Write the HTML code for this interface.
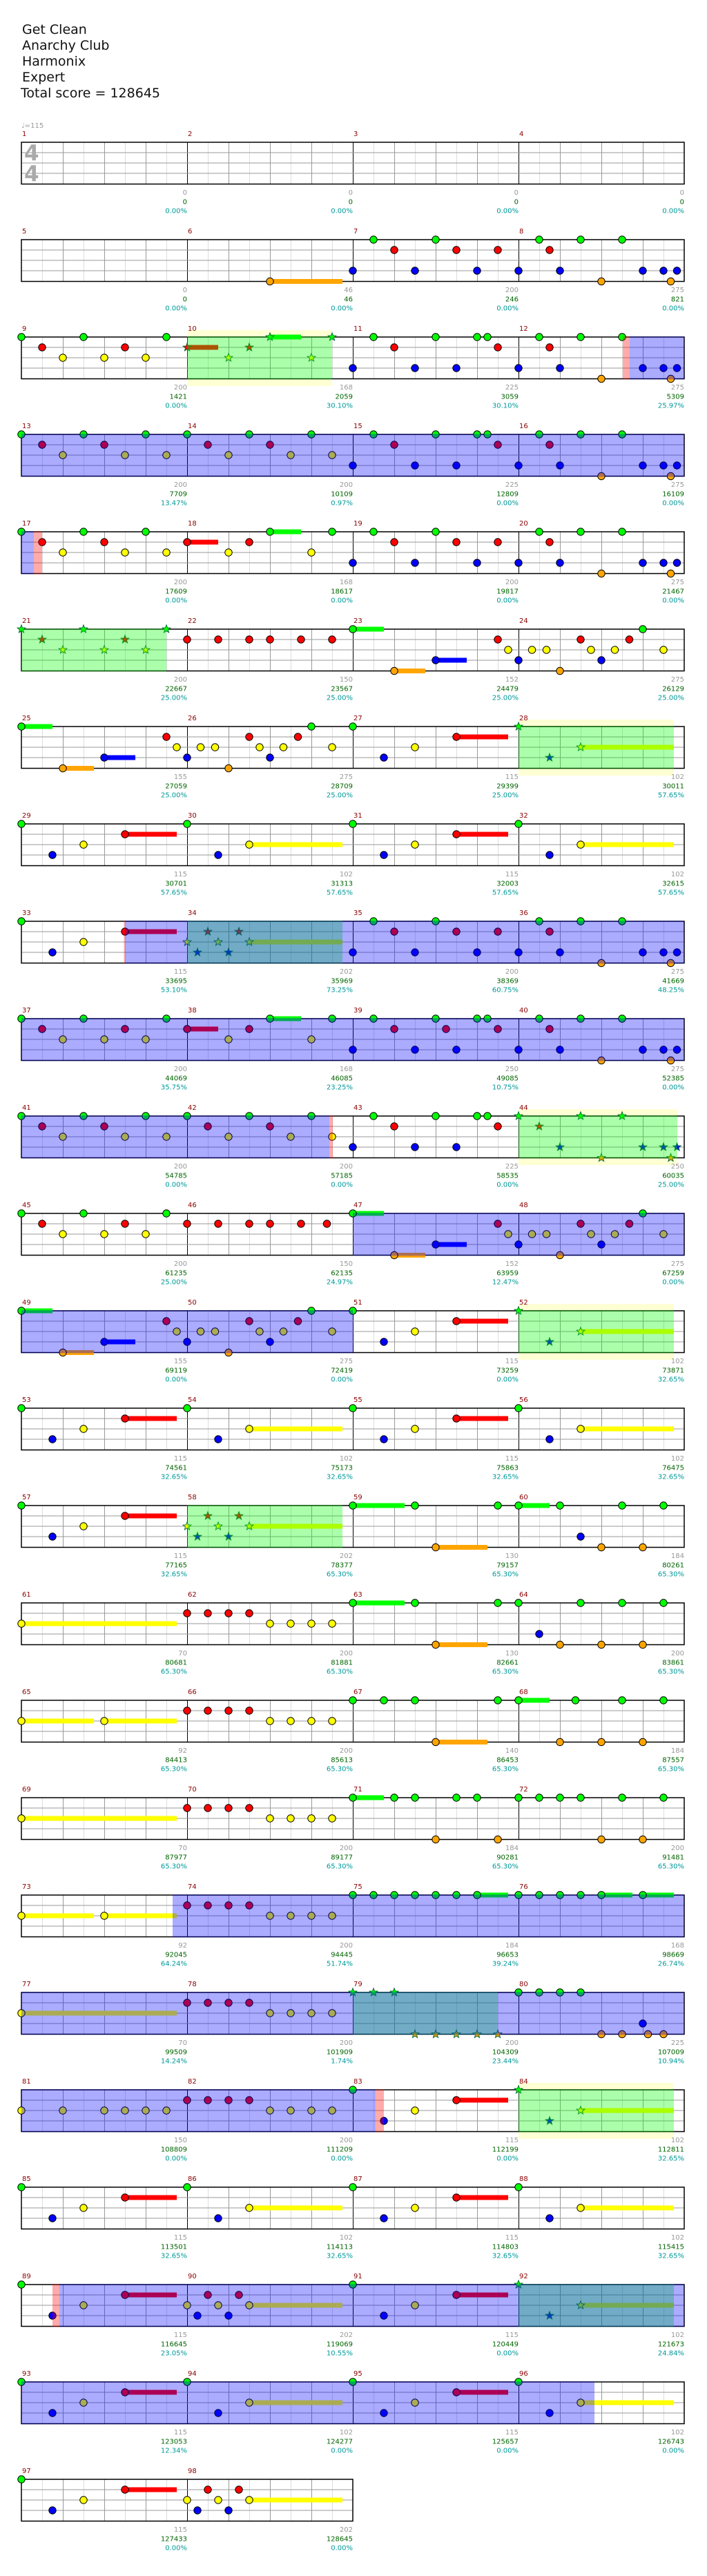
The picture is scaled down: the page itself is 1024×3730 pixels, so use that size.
<!DOCTYPE html>
<html><head><meta charset="utf-8">
<style>
html,body{margin:0;padding:0;background:#fff;width:1024px;height:3730px;overflow:hidden}
svg{display:block}
.hd{font-family:"DejaVu Sans","Liberation Sans",sans-serif;font-size:19px;fill:#111}
.mn{font-family:"DejaVu Sans","Liberation Sans",sans-serif;font-size:10px;fill:#8b0000}
.sc{font-family:"DejaVu Sans","Liberation Sans",sans-serif;font-size:10px}
</style></head>
<body>
<svg id="s" width="1024" height="3730" xmlns="http://www.w3.org/2000/svg">
<text class="hd" x="32" y="49">Get Clean</text>
<text class="hd" x="32" y="72">Anarchy Club</text>
<text class="hd" x="32" y="95">Harmonix</text>
<text class="hd" x="32" y="118">Expert</text>
<text class="hd" x="30" y="141">Total score = 128645</text>
<text x="31" y="185" style="font-family:'DejaVu Sans',sans-serif;font-size:10px;fill:#999">♩=115</text>
<g id="g"></g>
<text x="35" y="232" style="font-family:'DejaVu Sans',sans-serif;font-weight:bold;font-size:31px;fill:#aaa">4</text>
<text x="35" y="262" style="font-family:'DejaVu Sans',sans-serif;font-weight:bold;font-size:31px;fill:#aaa">4</text>
</svg>
<script>
(function(){
var P={
A:"G0 B3 Y6 R10-15",B:"G0 B3 Y6-15",
P7:"B0 G2 R4 B6 G8 R10 B12 R14",
P8:"B0 G2 R3 B4 G6 O8 G10 B12 B14 O14.7 B15.3",
P9:"G0 R2 Y4 G6 Y8 R10 Y12 G14",
P11:"B0 G2 R4 B6 G8 B10 G12 G13 R14",
P13:"G0 R2 Y4 G6 R8 Y10 G12 Y14",
P18:"R0-3 Y4 R6 G8-11 Y12 G14",
P22:"R0 R3 R6 R8 R11 R14",
P23:"G0-3 O4-7 B8-11 R14 Y15",
P24:"B0 Y1.3 Y2.7 O4 R6 Y7 B8 Y9.3 R10.7 G12 Y14",
P28:"G0 B3 Y6-15",
P34:"Y0 B1 R2 Y3 B4 R5 Y6-15",
P39:"B0 G2 R4 B6 G8 R9 B10 G12 G13 R14",
P44:"G0 R2 B4 G6 O8 G10 B12 B14 O14.7 B15.3",
P46:"R0 R3 R6 R8 R11 R13.5",
P59:"G0-5 G6 O8-13 G14",
P60:"G0-3 G4 B6 O8 G10 O12 G14",
P61:"Y0-15",
P62:"R0 R2 R4 R6 Y8 Y10 Y12 Y14",
P64:"G0 B2 O4 G6 O8 G10 O12 G14",
P65:"Y0-7 Y8-15",
P67:"G0 G3 G6 O8-13 G14",
P68:"G0-3 O4 G5.5 O8 G10 O12 G14",
P71:"G0-3 G4 G6 O8 G10 G12 O14",
P72:"G0 G2 G4 G6 O8 G10 O12 G14",
P75:"G0 G2 G4 G6 G8 G10 G12-15",
P76:"G0 G2 G4 G6 G8-11 G12-15",
P79:"G0 G2 G4 O6 O8 O10 O12 O14",
P80:"G0 G2 G4 G6 O8 O10 B12 O12.5 O14",
P81:"Y0 Y4 Y8 Y10 Y12 Y14",
E:"",M6:"O8-15"
};
var M=["E","E","E","E","E","M6","P7","P8",
"P9","P18*","P11","P8","P13","P13","P11","P8",
"P13","P18","P7","P8","P9*","P22","P23","P24",
"P23","P24","A","P28*","A","B","A","B",
"A","P34*","P7","P8","P9","P18","P39","P8",
"P13","P13","P11","P44*","P9","P46","P23","P24",
"P23","P24","A","P28*","A","B","A","B",
"A","P34*","P59","P60","P61","P62","P59","P64",
"P65","P62","P67","P68","P61","P62","P71","P72",
"P65","P62","P75","P76","P61","P62","P79*","P80",
"P81","P62","A","P28*","A","B","A","B",
"A","P34","A","P28*","A","B","A","B",
"A","P34"];
var SC=["0,0,0.00%","0,0,0.00%","0,0,0.00%","0,0,0.00%",
"0,0,0.00%","46,46,0.00%","200,246,0.00%","275,821,0.00%",
"200,1421,0.00%","168,2059,30.10%","225,3059,30.10%","275,5309,25.97%",
"200,7709,13.47%","200,10109,0.97%","225,12809,0.00%","275,16109,0.00%",
"200,17609,0.00%","168,18617,0.00%","200,19817,0.00%","275,21467,0.00%",
"200,22667,25.00%","150,23567,25.00%","152,24479,25.00%","275,26129,25.00%",
"155,27059,25.00%","275,28709,25.00%","115,29399,25.00%","102,30011,57.65%",
"115,30701,57.65%","102,31313,57.65%","115,32003,57.65%","102,32615,57.65%",
"115,33695,53.10%","202,35969,73.25%","200,38369,60.75%","275,41669,48.25%",
"200,44069,35.75%","168,46085,23.25%","250,49085,10.75%","275,52385,0.00%",
"200,54785,0.00%","200,57185,0.00%","225,58535,0.00%","250,60035,25.00%",
"200,61235,25.00%","150,62135,24.97%","152,63959,12.47%","275,67259,0.00%",
"155,69119,0.00%","275,72419,0.00%","115,73259,0.00%","102,73871,32.65%",
"115,74561,32.65%","102,75173,32.65%","115,75863,32.65%","102,76475,32.65%",
"115,77165,32.65%","202,78377,65.30%","130,79157,65.30%","184,80261,65.30%",
"70,80681,65.30%","200,81881,65.30%","130,82661,65.30%","200,83861,65.30%",
"92,84413,65.30%","200,85613,65.30%","140,86453,65.30%","184,87557,65.30%",
"70,87977,65.30%","200,89177,65.30%","184,90281,65.30%","200,91481,65.30%",
"92,92045,64.24%","200,94445,51.74%","184,96653,39.24%","168,98669,26.74%",
"70,99509,14.24%","200,101909,1.74%","200,104309,23.44%","225,107009,10.94%",
"150,108809,0.00%","200,111209,0.00%","115,112199,0.00%","102,112811,32.65%",
"115,113501,32.65%","102,114113,32.65%","115,114803,32.65%","102,115415,32.65%",
"115,116645,23.05%","202,119069,10.55%","115,120449,0.00%","102,121673,24.84%",
"115,123053,12.34%","102,124277,0.00%","115,125657,0.00%","102,126743,0.00%",
"115,127433,0.00%","202,128645,0.00%"];
var COL={G:"#00ff00",R:"#ff0000",Y:"#ffff00",B:"#0000ff",O:"#ffa500"};
var LY={G:0,R:15,Y:30,B:45,O:60.5};
function rowTop(r){return 206+r*141;}
var BL="rgba(0,0,255,0.33)",GR="rgba(0,255,0,0.33)",PK="rgba(255,0,0,0.33)";
var OV=[[2,271,481,GR],[5,31,241,GR],[6,751,976,GR],[8,271,496,GR],[10,751,981,GR],[12,751,976,GR],
[14,271,496,GR],[19,511,721,GR],[20,751,976,GR],[22,751,976,GR],
[2,902,912,PK],[2,912,991,BL],[3,31,991,BL],[4,31,49,BL],[4,49,61,PK],
[8,179.5,181,PK],[8,181,991,BL],[9,31,991,BL],[10,31,477,BL],[10,477,482,PK],
[11,511,991,BL],[12,31,511,BL],[18,250,991,BL],[19,31,991,BL],[20,31,544,BL],[20,544,556,PK],
[22,76,86,PK],[22,86,991,BL],[23,31,861,BL]];
var YB=[[2,271,481],[6,751,976],[10,751,981],[12,751,976],[20,751,976]];
var h="";
YB.forEach(function(b){var t=rowTop(b[0]);h+='<rect x="'+b[1]+'" y="'+(t-10)+'" width="'+(b[2]-b[1])+'" height="81" fill="#ffffd4"/>';});
for(var r=0;r<25;r++){
 var t=rowTop(r);var nm=(r==24)?2:4;var w=nm*240;
 h+='<rect x="31" y="'+t+'" width="'+w+'" height="60.5" fill="#fff"/>';
 for(var c=0;c<nm;c++){var x0=31+c*240;
  for(var k=1;k<8;k++){h+='<line x1="'+(x0+k*30+.5)+'" y1="'+t+'" x2="'+(x0+k*30+.5)+'" y2="'+(t+60.5)+'" stroke="'+(k%2?"#ddd":"#999")+'" stroke-width="1"/>';}
  if(c>0)h+='<line x1="'+(x0+.5)+'" y1="'+t+'" x2="'+(x0+.5)+'" y2="'+(t+60.5)+'" stroke="#000" stroke-width="1"/>';
 }
 for(var L=1;L<4;L++){h+='<line x1="31" y1="'+(t+L*15)+'" x2="'+(31+w)+'" y2="'+(t+L*15)+'" stroke="#999" stroke-width="1"/>';}
 h+='<rect x="31" y="'+t+'" width="'+w+'" height="60.5" fill="none" stroke="#000" stroke-width="1.5"/>';
}
function star(cx,cy,col){var p=[];for(var i=0;i<10;i++){var a=-Math.PI/2+i*Math.PI/5;var rr=i%2?2.6:6.2;p.push((cx+rr*Math.cos(a)).toFixed(1)+","+(cy+rr*Math.sin(a)).toFixed(1));}
 return '<polygon points="'+p.join(" ")+'" fill="'+col+'" stroke="#063" stroke-width="0.9"/>';}
var sus="",nts="",txt="";
for(var m=1;m<=M.length;m++){
 var rr=Math.floor((m-1)/4),cc=(m-1)%4,mx=31+cc*240,mt=rowTop(rr);
 var key=M[m-1],st=false;if(key.slice(-1)=="*"){st=true;key=key.slice(0,-1);}
 var s=P[key];
 if(s){s.split(" ").forEach(function(tk){var mm=tk.match(/([GRYBO])([\d.]+)(?:-([\d.]+))?/);
  if(!mm)return;
  var L=mm[1],x=mx+parseFloat(mm[2])*15,y=mt+LY[L];
  if(mm[3]){var x2=mx+parseFloat(mm[3])*15;sus+='<rect x="'+x+'" y="'+(y-3.5)+'" width="'+(x2-x)+'" height="7" fill="'+COL[L]+'"/>';}
  if(st)nts+=star(x,y,COL[L]);else nts+='<circle cx="'+x+'" cy="'+y+'" r="5.2" fill="'+COL[L]+'" stroke="#000" stroke-width="1"/>';
 });}
 txt+='<text class="mn" x="'+(mx+1)+'" y="'+(mt-9)+'">'+m+'</text>';
 var v=SC[m-1].split(","),xe=mx+240;
 txt+='<text class="sc" x="'+xe+'" y="'+(mt+76)+'" text-anchor="end" fill="#999">'+v[0]+'</text>';
 txt+='<text class="sc" x="'+xe+'" y="'+(mt+89.5)+'" text-anchor="end" fill="#006400">'+v[1]+'</text>';
 txt+='<text class="sc" x="'+xe+'" y="'+(mt+102.5)+'" text-anchor="end" fill="#009999">'+v[2]+'</text>';
}
h+=sus+nts;
OV.forEach(function(o){var t=rowTop(o[0]);h+='<rect x="'+o[1]+'" y="'+(t-0.75)+'" width="'+(o[2]-o[1])+'" height="62" fill="'+o[3]+'"/>';});
h+=txt;
var g=document.getElementById("g");
try{g.innerHTML=h;}catch(e){
 var d=new DOMParser().parseFromString('<svg xmlns="http://www.w3.org/2000/svg">'+h+'</svg>','image/svg+xml');
 var n=d.documentElement.childNodes;for(var i=0;i<n.length;i++)g.appendChild(document.importNode(n[i],true));
}
})();
</script>
</body></html>
